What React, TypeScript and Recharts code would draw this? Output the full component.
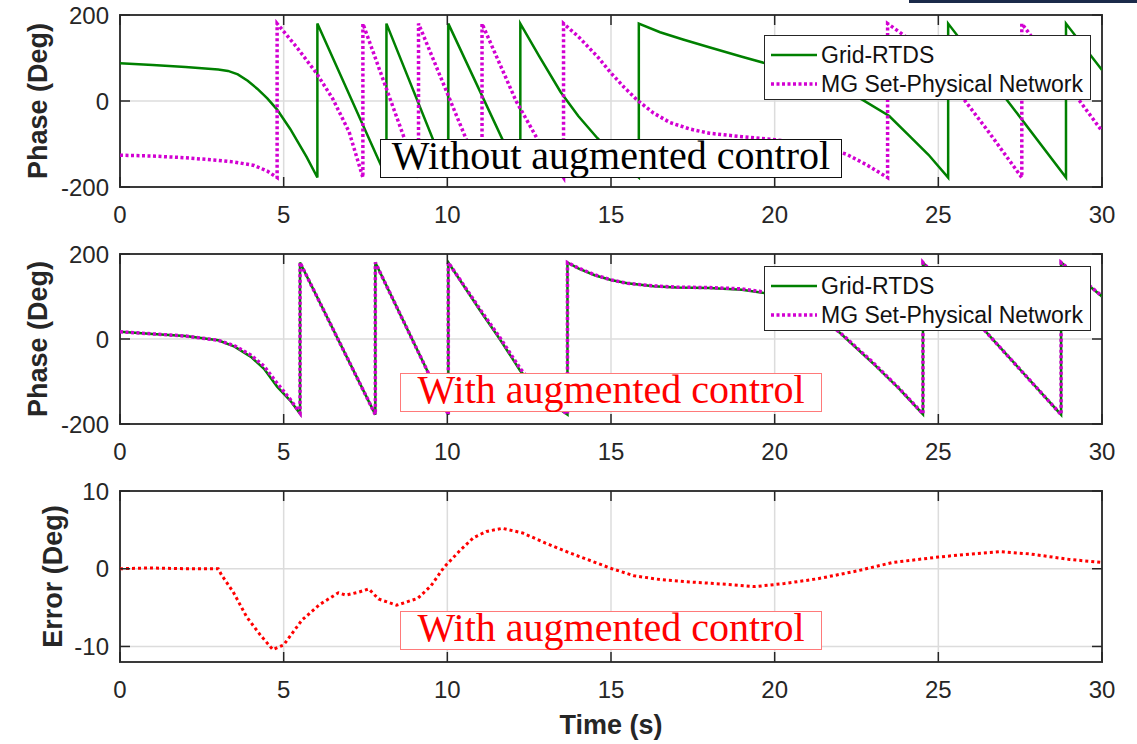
import React from 'react';
import { LineChart, Line, XAxis, YAxis, CartesianGrid, ReferenceArea, Legend } from 'recharts';

// ticks
const timeTicks = [0, 5, 10, 15, 20, 25, 30];
const phaseTicks = [-200, 0, 200];
const errorTicks = [-10, 0, 10];

// [time (s), phase (deg)], top panel (without augmented control)
const gridNoAug: [number, number][] = [
  [0, 88], [1, 84], [2, 79], [3, 73], [3.3, 70], [3.6, 62], [3.9, 47], [4.2, 28], [4.5, 6], [4.8, -20], [5.2, -65], [5.7, -130], [6.03, -178],
  [6.03, 180], [8.14, -178],
  [8.14, 180], [10.03, -178],
  [10.03, 180], [12.23, -178],
  [12.23, 180], [12.8, 105], [13.46, 21], [14.0, -35], [14.58, -86], [15.2, -135], [15.85, -178],
  [15.85, 180], [16.5, 160], [17.2, 143], [18, 125], [19, 103], [19.7, 88], [20.5, 68], [21.5, 42], [22.2, 22], [22.7, 2],
  [23.5, -35], [24.1, -80], [24.7, -125], [25.3, -178],
  [25.3, 180], [27.1, 2], [28.9, -178],
  [28.9, 180], [30, 72],
];
const mgNoAug: [number, number][] = [
  [0, -126], [1, -128], [2, -132], [3, -138], [3.5, -142], [4.1, -150], [4.5, -163], [4.8, -178],
  [4.8, 180], [5.4, 125], [6.0, 65], [6.5, 5], [7.0, -72], [7.42, -178],
  [7.42, 180], [9.12, -178],
  [9.12, 180], [11.06, -178],
  [11.06, 180], [12.1, 0], [12.8, -95], [13.55, -178],
  [13.55, 180], [14, 150], [14.6, 102], [15, 65], [15.4, 32], [15.8, 2], [16.3, -28], [16.8, -50], [17.4, -65], [18, -75],
  [19, -83], [20, -90], [21, -100], [21.7, -112], [22.2, -124], [22.8, -148], [23.45, -178],
  [23.45, 180], [24, 150], [24.7, 95], [25.3, 48], [25.8, 2], [26.5, -68], [27.55, -178],
  [27.55, 180], [29.3, 2], [30, -70],
];

// middle panel (with augmented control)
const gridAug: [number, number][] = [
  [0, 17], [1, 12], [2, 7], [3, -3], [3.5, -18], [4, -42], [4.4, -70], [4.8, -112], [5.2, -145], [5.5, -176],
  [5.5, 180], [7.8, -178],
  [7.8, 180], [10.03, -178],
  [10.03, 180], [11, 67], [11.6, 0], [12.23, -75], [12.8, -125], [13.3, -158], [13.67, -178],
  [13.67, 180], [14, 166], [14.5, 150], [15, 139], [15.5, 131], [16.3, 124], [17, 121], [18, 120], [19, 116], [19.7, 108],
  [20.5, 88], [21.2, 60], [22, 14], [23, -57], [23.8, -117], [24.53, -177],
  [24.53, 180], [28.75, -178],
  [28.75, 180], [30, 100],
];
const mgAug: [number, number][] = [
  [0, 17], [1, 12], [2, 7], [3, -3], [3.5, -16], [4, -38], [4.4, -64], [4.8, -104], [5.2, -142], [5.5, -174],
  [5.5, 180], [7.8, -178],
  [7.8, 180], [10.03, -178],
  [10.03, 180], [11, 70], [11.6, 4], [12.23, -70], [12.8, -121], [13.3, -156], [13.67, -177],
  [13.67, 180], [14, 167], [14.5, 151], [15, 139], [15.5, 131], [16.3, 125], [17, 122], [18, 121], [19, 118], [19.7, 110],
  [20.5, 89], [21.2, 61], [22, 15], [23, -55], [23.8, -116], [24.53, -176],
  [24.53, 180], [28.75, -178],
  [28.75, 180], [30, 101],
];

// bottom panel: error (deg)
const phaseError: [number, number][] = [
  [0, 0], [0.9, 0.1], [2, 0], [3, 0], [3.1, -0.8], [3.46, -3], [3.87, -6.2], [4.3, -8.6], [4.67, -10.4], [5.0, -9.8],
  [5.56, -6.6], [6.1, -4.6], [6.67, -3.1], [6.9, -3.4], [7.3, -3.0], [7.6, -2.6], [7.9, -3.9], [8.45, -4.7], [9.1, -3.8],
  [9.5, -2.2], [9.9, 0.2], [10.4, 2.4], [10.8, 4.0], [11.2, 4.8], [11.68, 5.2], [12.3, 4.6], [13.0, 3.3], [13.7, 2.1],
  [15.03, 0], [15.7, -0.9], [16.5, -1.4], [17.4, -1.7], [18.5, -2.0], [19.4, -2.3], [20.3, -1.9], [21.3, -1.3],
  [22.5, -0.3], [23.6, 0.8], [25.0, 1.5], [26.0, 1.9], [26.9, 2.2], [27.8, 1.9], [29, 1.2], [30, 0.8],
];

const SANS = '"Liberation Sans", Arial, Helvetica, sans-serif';
const SERIF = '"Liberation Serif", "Times New Roman", serif';
const INK = '#262626';
const FRAME = '#3a3a3a';
const GRID = '#dcdcdc';
const GREEN = '#008000';
const MAGENTA = '#d200d2';
const RED = '#ff0000';

const CHART_W = 1137;
const PLOT_L = 120;
const PLOT_R = 1102;
const X_AXIS_H = 40;

type Series = { name: string; data: [number, number][]; color: string; dash?: string; width: number };

const toPts = (arr: [number, number][]) => arr.map(([t, v]) => ({ t, v }));

interface PanelProps {
  top: number;
  height: number;
  plotTop: number;
  plotBottom: number;
  yDomain: [number, number];
  yTicks: number[];
  yTitle: string;
  yTitleX: number;
  series: Series[];
  legendTop?: number;
  xTitle?: string;
}

const Panel: React.FC<PanelProps> = ({ top, height, plotTop, plotBottom, yDomain, yTicks, yTitle, yTitleX, series, legendTop, xTitle }) => {
  const XTick = (p: any) => (
    <g>
      <line x1={p.x} x2={p.x} y1={plotBottom} y2={plotBottom - 10} stroke={INK} strokeWidth={1.5} />
      <line x1={p.x} x2={p.x} y1={plotTop} y2={plotTop + 10} stroke={INK} strokeWidth={1.5} />
      <text x={p.x} y={plotBottom + 27} textAnchor="middle" dominantBaseline="central" fontSize={24} fill={INK} fontFamily={SANS}>
        {p.payload.value}
      </text>
    </g>
  );
  const YTick = (p: any) => (
    <g>
      <line x1={PLOT_L} x2={PLOT_L + 10} y1={p.y} y2={p.y} stroke={INK} strokeWidth={1.5} />
      <line x1={PLOT_R} x2={PLOT_R - 10} y1={p.y} y2={p.y} stroke={INK} strokeWidth={1.5} />
      <text x={PLOT_L - 11} y={p.y} textAnchor="end" dominantBaseline="central" fontSize={24} fill={INK} fontFamily={SANS}>
        {p.payload.value}
      </text>
    </g>
  );
  const cy = (plotTop + plotBottom) / 2;
  const yTitleLabel = () => (
    <text x={yTitleX} y={cy} transform={`rotate(-90 ${yTitleX} ${cy})`} textAnchor="middle" dominantBaseline="central"
      fontSize={27} fontWeight="bold" fill={INK} fontFamily={SANS}>
      {yTitle}
    </text>
  );
  const xTitleLabel = () =>
    xTitle ? (
      <text x={(PLOT_L + PLOT_R) / 2} y={plotBottom + 72} textAnchor="middle" fontSize={27} fontWeight="bold" fill={INK} fontFamily={SANS}>
        {xTitle}
      </text>
    ) : null;

  const legendContent = () => (
    <div style={{ position: 'relative', width: 327, height: 65, boxSizing: 'border-box', border: `1.5px solid ${INK}`, background: '#fff', fontFamily: SANS }}>
      {series.map((s, i) => (
        <div key={s.name} style={{ position: 'absolute', left: 0, top: 7 + i * 29, height: 24, width: 320 }}>
          <svg width={60} height={24} style={{ position: 'absolute', left: 6, top: 0 }}>
            <line x1={0} x2={46} y1={12} y2={12} stroke={s.color} strokeWidth={s.width} strokeDasharray={s.dash} />
          </svg>
          <span style={{ position: 'absolute', left: 56, top: 0, lineHeight: '24px', fontSize: 23, color: '#111', whiteSpace: 'nowrap' }}>
            {s.name}
          </span>
        </div>
      ))}
    </div>
  );

  return (
    <div style={{ position: 'absolute', left: 0, top }}>
      <LineChart
        width={CHART_W}
        height={height}
        margin={{ top: plotTop, right: CHART_W - PLOT_R, bottom: height - plotBottom - X_AXIS_H, left: 0 }}
      >
        <CartesianGrid stroke={GRID} strokeWidth={1.5} />
        <XAxis
          dataKey="t"
          type="number"
          domain={[0, 30]}
          ticks={timeTicks}
          height={X_AXIS_H}
          axisLine={false}
          tickLine={false}
          tickSize={0}
          tick={XTick}
          label={xTitleLabel}
          allowDataOverflow
        />
        <YAxis
          type="number"
          domain={yDomain}
          ticks={yTicks}
          width={PLOT_L}
          axisLine={false}
          tickLine={false}
          tickSize={0}
          tick={YTick}
          label={yTitleLabel}
          allowDataOverflow
        />
        {series.map((s) => (
          <Line
            key={s.name}
            name={s.name}
            data={toPts(s.data)}
            dataKey="v"
            type="linear"
            stroke={s.color}
            strokeWidth={s.width}
            strokeDasharray={s.dash}
            dot={false}
            activeDot={false}
            isAnimationActive={false}
          />
        ))}
        <ReferenceArea x1={0} x2={30} y1={yDomain[0]} y2={yDomain[1]} fill="none" stroke={FRAME} strokeWidth={2} />
        {legendTop !== undefined && (
          <Legend
            layout="vertical"
            align="center"
            verticalAlign="middle"
            content={legendContent}
            wrapperStyle={{ left: 764, top: legendTop - top, width: 327, height: 65 }}
          />
        )}
      </LineChart>
    </div>
  );
};

const notes = [
  { text: 'Without augmented control', left: 380, top: 139, width: 462, color: '#000', border: '1.5px solid #111' },
  { text: 'With augmented control', left: 400, top: 373, width: 422, color: RED, border: '1px solid #ff7a7a' },
  { text: 'With augmented control', left: 400, top: 611, width: 422, color: RED, border: '1px solid #ff7a7a' },
];

export default function App() {
  const noAug: Series[] = [
    { name: 'Grid-RTDS', data: gridNoAug, color: GREEN, width: 2.5 },
    { name: 'MG Set-Physical Network', data: mgNoAug, color: MAGENTA, dash: '3 2.5', width: 3.5 },
  ];
  const aug: Series[] = [
    { name: 'Grid-RTDS', data: gridAug, color: GREEN, width: 2.5 },
    { name: 'MG Set-Physical Network', data: mgAug, color: MAGENTA, dash: '3 2.5', width: 3.5 },
  ];
  const err: Series[] = [{ name: 'Error', data: phaseError, color: RED, dash: '3 3', width: 3 }];

  return (
    <div style={{ position: 'absolute', left: 0, top: 0, width: 1137, height: 744, background: '#fff', overflow: 'hidden' }}>
      <Panel top={0} height={240} plotTop={15} plotBottom={187} yDomain={[-200, 200]} yTicks={phaseTicks}
        yTitle="Phase (Deg)" yTitleX={38} series={noAug} legendTop={35} />
      <Panel top={230} height={250} plotTop={24} plotBottom={194} yDomain={[-200, 200]} yTicks={phaseTicks}
        yTitle="Phase (Deg)" yTitleX={38} series={aug} legendTop={266} />
      <Panel top={465} height={279} plotTop={26} plotBottom={197} yDomain={[-12, 10]} yTicks={errorTicks}
        yTitle="Error (Deg)" yTitleX={53} series={err} xTitle="Time (s)" />
      {notes.map((n, i) => (
        <div key={i} style={{
          position: 'absolute', left: n.left, top: n.top, width: n.width, height: 39, boxSizing: 'border-box',
          border: n.border, background: '#fff', color: n.color, fontFamily: SERIF, fontSize: 40,
          lineHeight: '31px', textAlign: 'center', whiteSpace: 'nowrap',
        }}>
          {n.text}
        </div>
      ))}
      <div style={{ position: 'absolute', left: 909, top: 0, width: 228, height: 3, background: '#1b2a4a' }} />
    </div>
  );
}
